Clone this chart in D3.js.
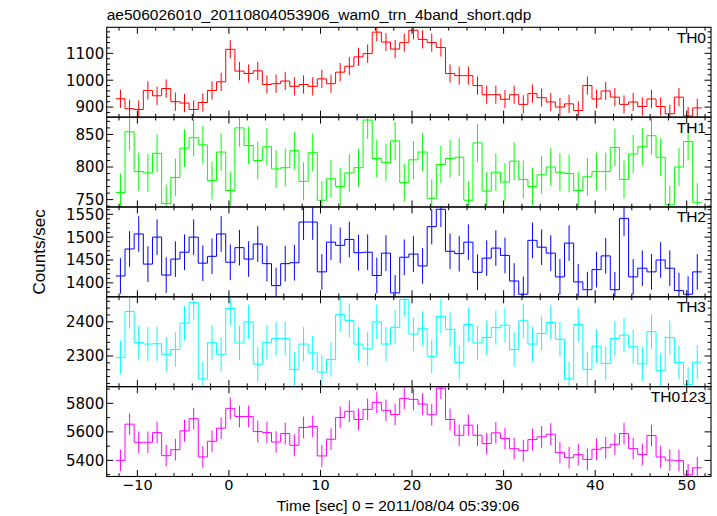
<!DOCTYPE html>
<html><head><meta charset="utf-8">
<script src="https://cdn.jsdelivr.net/npm/d3@7"></script>
<style>body{margin:0;background:#fff}svg{display:block}</style>
</head><body>
<svg id="c" width="717" height="516"></svg>
<script>
const titleText = "ae506026010_20110804053906_wam0_trn_4band_short.qdp";
const xLabel = "Time [sec] 0 = 2011/08/04 05:39:06";
const yLabel = "Counts/sec";
const bandNames = ["TH0","TH1","TH2","TH3","TH0123"];
const bandColors = ["#ff0000","#00ff00","#0000ff","#00ffff","#ff00ff"];
const timeCenters = [-11.85,-10.85,-9.85,-8.85,-7.85,-6.85,-5.85,-4.85,-3.85,-2.85,-1.85,-0.85,
 0.15,1.15,2.15,3.15,4.15,5.15,6.15,7.15,8.15,9.15,10.15,11.15,12.15,13.15,14.15,15.15,16.15,17.15,
 18.15,19.15,20.15,21.15,22.15,23.15,24.15,25.15,26.15,27.15,28.15,29.15,30.15,31.15,32.15,33.15,
 34.15,35.15,36.15,37.15,38.15,39.15,40.15,41.15,42.15,43.15,44.15,45.15,46.15,47.15,48.15,49.15,50.15,51.15];
const binHalfWidth = 0.5;
const th0 = [931,894,891,962,942,969,920,915,891,917,962,994,1115,1034,1025,1035,984,987,997,977,984,977,1005,987,1030,1052,1087,1099,1179,1142,1116,1140,1186,1152,1140,1122,1025,1017,1017,980,946,946,929,946,910,950,935,919,900,912,887,980,930,960,937,910,919,902,930,902,875,937,867,897];
const th1 = [761,854,793,791,821,744,784,829,845,834,779,823,764,860,833,810,831,797,799,825,778,822,749,782,770,791,799,872,813,807,840,776,811,823,752,804,813,815,749,837,763,792,777,809,781,770,788,800,792,790,764,785,793,793,830,781,820,831,848,815,742,800,839,746];
const th2 = [1415,1474,1507,1441,1500,1417,1452,1467,1500,1443,1458,1507,1445,1477,1452,1485,1442,1394,1442,1444,1533,1533,1424,1489,1482,1495,1466,1467,1416,1465,1378,1456,1463,1437,1523,1561,1469,1464,1489,1423,1454,1476,1460,1404,1375,1493,1478,1465,1413,1487,1402,1385,1429,1459,1385,1541,1413,1432,1424,1450,1432,1383,1375,1424];
const th3 = [2296,2430,2339,2335,2336,2305,2319,2396,2456,2233,2339,2305,2439,2338,2400,2276,2340,2351,2351,2261,2335,2309,2253,2290,2421,2404,2335,2321,2400,2335,2384,2465,2364,2381,2299,2416,2378,2281,2392,2338,2354,2383,2390,2319,2403,2335,2366,2398,2349,2233,2392,2261,2329,2278,2351,2361,2327,2277,2371,2257,2354,2281,2217,2282];
const th0123 = [5400,5654,5527,5527,5595,5433,5475,5607,5692,5424,5534,5626,5765,5708,5708,5602,5595,5529,5588,5506,5631,5638,5431,5548,5701,5744,5687,5758,5807,5751,5722,5835,5828,5795,5720,5906,5687,5576,5647,5576,5518,5593,5553,5482,5468,5546,5565,5584,5454,5419,5440,5407,5478,5489,5513,5588,5482,5442,5574,5424,5402,5398,5299,5348];
const bandErrors = [34, 29, 39, 50, 76];
const yDomains = [[862.5,1197],[738.7,876.5],[1369.4,1566],[2210.5,2473],[5287,5917]];
const yMajor = [[900,1000,1100],[750,800,850],[1400,1450,1500,1550],[2300,2400],[5400,5600,5800]];
const yMinorStep = [20,10,10,20,100];
const xDomain = [-13.35, 52.65];
const xMajor = [-10,0,10,20,30,40,50];
const xMinorStep = 2;

const series = [th0, th1, th2, th3, th0123];

const svg = d3.select("#c");
const L = 106.7, R = 711, T = 27.3, B = 476.5;
const nP = 5, pH = (B - T) / nP;
const x = d3.scaleLinear().domain(xDomain).range([L, R]);
const font = "'Liberation Sans', Arial, Helvetica, sans-serif";
const tickFont = "'DejaVu Sans', sans-serif";
const MAJ = 6.5, MIN = 3.3;

svg.append("text").attr("x", L).attr("y", 20).attr("font-family", font)
  .attr("font-size", 15.5).attr("fill", "#000").text(titleText);

const xMinor = d3.range(Math.ceil(xDomain[0]/xMinorStep)*xMinorStep, xDomain[1], xMinorStep);

series.forEach((vals, i) => {
  const top = T + i * pH, bot = top + pH;
  const y = d3.scaleLinear().domain(yDomains[i]).range([bot, top]);
  const g = svg.append("g");
  const cid = "clip" + i;
  svg.append("clipPath").attr("id", cid).append("rect")
    .attr("x", L).attr("y", top).attr("width", R - L).attr("height", pH);
  const dg = g.append("g").attr("clip-path", `url(#${cid})`);
  const pts = timeCenters.map((t, k) => [t - binHalfWidth, vals[k]]);
  pts.push([timeCenters[timeCenters.length-1] + binHalfWidth, vals[vals.length-1]]);
  const line = d3.line().x(d => x(d[0])).y(d => y(d[1])).curve(d3.curveStepAfter);
  dg.append("path").attr("d", line(pts)).attr("fill", "none")
    .attr("stroke", bandColors[i]).attr("stroke-width", 1);
  dg.selectAll("line.err").data(timeCenters).join("line")
    .attr("x1", d => x(d)).attr("x2", d => x(d))
    .attr("y1", (d, k) => y(vals[k] - bandErrors[i]))
    .attr("y2", (d, k) => y(vals[k] + bandErrors[i]))
    .attr("stroke", bandColors[i]).attr("stroke-width", 1);

  g.append("rect").attr("x", L).attr("y", top).attr("width", R - L).attr("height", pH)
    .attr("fill", "none").attr("stroke", "#000").attr("stroke-width", 1.1);
  const tg = g.append("g").attr("stroke", "#000").attr("stroke-width", 1);
  xMinor.forEach(v => {
    const len = xMajor.includes(v) ? MAJ : MIN;
    tg.append("line").attr("x1", x(v)).attr("x2", x(v)).attr("y1", bot).attr("y2", bot - len);
    tg.append("line").attr("x1", x(v)).attr("x2", x(v)).attr("y1", top).attr("y2", top + len);
  });
  const ys = yMinorStep[i];
  const yMin = d3.range(Math.ceil(yDomains[i][0]/ys)*ys, yDomains[i][1], ys);
  yMin.forEach(v => {
    const len = yMajor[i].includes(v) ? MAJ : MIN;
    tg.append("line").attr("x1", L).attr("x2", L + len).attr("y1", y(v)).attr("y2", y(v));
    tg.append("line").attr("x1", R).attr("x2", R - len).attr("y1", y(v)).attr("y2", y(v));
  });
  g.selectAll("text.yl").data(yMajor[i]).join("text")
    .attr("x", L - 2.5).attr("y", d => y(d)).attr("dy", "0.36em")
    .attr("text-anchor", "end").attr("font-family", tickFont).attr("font-size", 15)
    .text(d => d3.format("d")(d));
  g.append("text").attr("x", R - 5).attr("y", top + 15.5).attr("text-anchor", "end")
    .attr("font-family", font).attr("font-size", 15.5).text(bandNames[i]);
  if (i === nP - 1) {
    g.selectAll("text.xl").data(xMajor).join("text")
      .attr("x", d => x(d)).attr("y", 489.5).attr("text-anchor", "middle")
      .attr("font-family", tickFont).attr("font-size", 14.5)
      .text(d => d3.format("d")(d));
  }
});

svg.append("text").attr("x", 398).attr("y", 511).attr("text-anchor", "middle")
  .attr("font-family", font).attr("font-size", 15.5).text(xLabel);
svg.append("text").attr("transform", `translate(45,${(T+B)/2}) rotate(-90)`)
  .attr("text-anchor", "middle").attr("font-family", font).attr("font-size", 17).text(yLabel);
</script>
</body></html>
